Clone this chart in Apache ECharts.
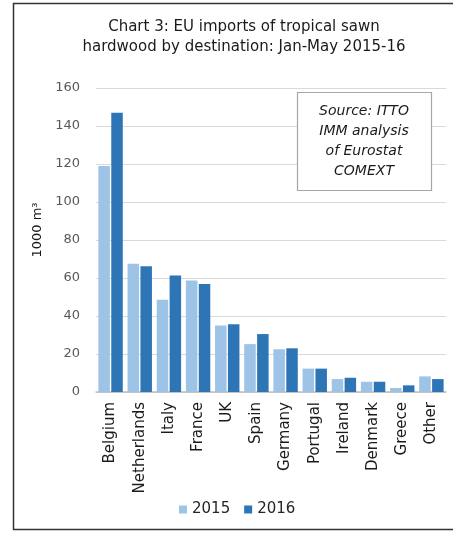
<!DOCTYPE html>
<html>
<head>
<meta charset="utf-8">
<script src="https://cdn.jsdelivr.net/npm/echarts@6/dist/echarts.min.js"></script>
<style>
    html, body {margin: 0; padding: 0; background: #fff;}
    #chart_main {width: 453px; height: 533px;}
</style>
</head>
<body>
<div id="chart_main"></div>
<script>
// chart data
let countries = ['Belgium', 'Netherlands', 'Italy', 'France', 'UK', 'Spain', 'Germany', 'Portugal', 'Ireland', 'Denmark', 'Greece', 'Other'];
let imports_2015 = [119, 67.5, 48.6, 58.7, 35, 25.2, 22.5, 12.3, 6.8, 5.4, 2.1, 8.2];
let imports_2016 = [147, 66.2, 61.3, 56.8, 35.7, 30.5, 23, 12.3, 7.5, 5.4, 3.5, 6.8];
let series_names = ['2015', '2016'];
let y_ticks = {min: 0, max: 160, interval: 20};

let myChart;
let font = 'DejaVu Sans';

function setChart(myChart) {
    let option = {
        animation: false,
        textStyle: {fontFamily: font},
        title: {
            text: 'Chart 3: EU imports of tropical sawn\nhardwood by destination: Jan-May 2015-16',
            left: 239,
            textAlign: 'center',
            top: 12,
            textStyle: {fontFamily: font, fontSize: 15, fontWeight: 'normal', color: '#1a1a1a', lineHeight: 20}
        },
        legend: {
            data: series_names,
            left: 174,
            top: 497,
            itemWidth: 8,
            itemHeight: 8,
            itemGap: 14,
            icon: 'rect',
            textStyle: {fontFamily: font, fontSize: 15, color: '#262626'}
        },
        grid: {left: 96, right: 7, top: 88, bottom: 141},
        xAxis: {
            type: 'category',
            data: countries,
            axisTick: {show: false},
            axisLine: {lineStyle: {color: '#BFBFBF', width: 1.5}},
            axisLabel: {rotate: 90, margin: 10, fontSize: 15, color: '#1a1a1a', interval: 0}
        },
        yAxis: {
            type: 'value',
            min: y_ticks.min,
            max: y_ticks.max,
            interval: y_ticks.interval,
            name: '1000 m³',
            nameLocation: 'middle',
            nameGap: 52,
            nameRotate: 90,
            nameTextStyle: {fontSize: 13, color: '#1a1a1a', padding: [0, 0, 0, 20]},
            axisLabel: {fontSize: 13, color: '#595959', margin: 16},
            splitLine: {lineStyle: {color: '#D9D9D9', width: 1}}
        },
        series: [{
            name: series_names[0],
            type: 'bar',
            data: imports_2015,
            barWidth: 11.5,
            barGap: '12%',
            itemStyle: {color: '#9DC3E6'}
        }, {
            name: series_names[1],
            type: 'bar',
            data: imports_2016,
            barWidth: 11.5,
            itemStyle: {color: '#2E75B6'}
        }],
        graphic: [{
            // outer frame
            type: 'rect',
            shape: {x: 13.5, y: 3.5, width: 460, height: 526},
            style: {fill: 'none', stroke: '#333', lineWidth: 1.5},
            silent: true
        }, {
            // source box
            type: 'rect',
            shape: {x: 297.5, y: 92.5, width: 134, height: 98},
            style: {fill: '#fff', stroke: '#A6A6A6', lineWidth: 1.2},
            z: 10
        }, {
            type: 'text',
            x: 364,
            y: 101,
            z: 11,
            style: {
                text: 'Source: ITTO\nIMM analysis\nof Eurostat\nCOMEXT',
                fontFamily: font,
                fontStyle: 'italic',
                fontSize: 14,
                lineHeight: 20,
                fill: '#1a1a1a',
                align: 'center',
                verticalAlign: 'top'
            }
        }]
    };
    myChart.setOption(option);
}

myChart = echarts.init(document.getElementById('chart_main'));
setChart(myChart);
</script>
</body>
</html>
